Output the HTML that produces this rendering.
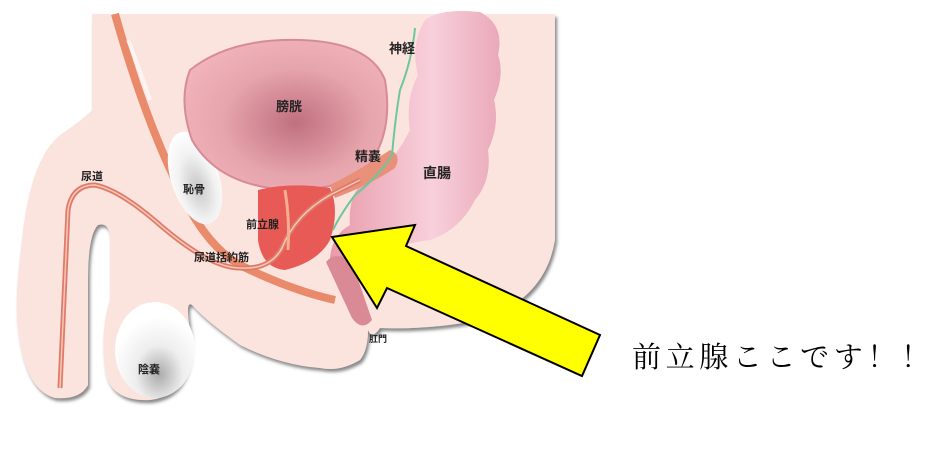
<!DOCTYPE html>
<html><head><meta charset="utf-8"><style>
html,body{margin:0;padding:0;background:#fff;width:943px;height:451px;overflow:hidden}
svg{display:block}
text{font-family:"Liberation Sans","Noto Sans CJK JP",sans-serif;font-weight:bold;fill:#222}
</style></head><body>
<svg width="943" height="451" viewBox="0 0 943 451" xmlns="http://www.w3.org/2000/svg">
<defs>
<radialGradient id="bl" cx="0.55" cy="0.55" r="0.6"><stop offset="0" stop-color="#c07080"/><stop offset="0.6" stop-color="#e6a4ac"/><stop offset="1" stop-color="#f0b3b8"/></radialGradient>
<radialGradient id="wb" cx="0.5" cy="0.6" r="0.6"><stop offset="0" stop-color="#c8c8c8"/><stop offset="0.6" stop-color="#f2f2f2"/><stop offset="1" stop-color="#fff"/></radialGradient>
<radialGradient id="sc" cx="0.55" cy="0.75" r="0.6"><stop offset="0" stop-color="#aaa"/><stop offset="0.5" stop-color="#eee"/><stop offset="1" stop-color="#fff"/></radialGradient>
<linearGradient id="rc" x1="0" y1="0" x2="1" y2="0"><stop offset="0" stop-color="#e89aaa"/><stop offset="0.6" stop-color="#f8d0dc"/><stop offset="1" stop-color="#eaa8b8"/></linearGradient>
<filter id="sh"><feDropShadow dx="2" dy="3" stdDeviation="1.5" flood-color="#555" flood-opacity="0.7"/></filter>
</defs>
<path filter="url(#sh)" fill="#fbe3de" d="M92,14 L555,14 L555,240 Q545,300 480,320 Q430,330 380,328 Q372,340 368,330 Q368,350 360,360 Q340,372 320,368 Q280,365 240,345 Q205,320 192,305 Q185,300 190,330 Q195,395 150,400 Q110,402 105,370 Q100,330 110,300 L110,235 Q108,222 98,225 Q88,235 88,280 L88,385 Q80,400 55,398 Q25,390 18,330 Q14,300 22,240 Q30,160 60,135 Q85,118 92,110 Z"/>
<ellipse cx="155" cy="350" rx="40" ry="48" fill="url(#sc)"/>
<path d="M115,14 Q145,120 180,190 Q205,245 240,265 Q290,290 335,300" fill="none" stroke="#e98a6a" stroke-width="8"/>
<path d="M128,40 Q140,70 150,100" fill="none" stroke="#fff" stroke-opacity="0.6" stroke-width="4"/>
<ellipse cx="195" cy="178" rx="24" ry="48" transform="rotate(-18 195 178)" fill="url(#wb)"/>
<path d="M190,70 Q230,38 300,40 Q370,42 385,80 Q395,140 360,175 Q320,195 270,188 Q215,180 192,140 Q178,100 190,70 Z" fill="url(#bl)" stroke="#d88a96" stroke-width="2"/>
<path d="M425,20 Q440,8 480,12 Q505,25 498,55 Q505,75 494,100 Q500,125 488,150 Q492,180 475,200 Q460,230 430,240 Q390,245 350,262 Q335,270 330,258 Q332,235 350,225 Q348,200 360,185 Q390,170 410,130 Q405,100 418,75 Q410,45 425,20 Z" fill="url(#rc)"/>
<path d="M326,262 Q336,250 352,262 L372,320 Q362,332 352,318 Z" fill="#d98a95"/>
<path d="M330,185 Q360,170 390,150 Q402,155 395,168 Q370,185 335,198 Z" fill="#e8907a"/>
<path d="M258,190 Q290,182 330,188 Q340,210 330,240 Q318,262 285,270 Q262,268 258,240 Z" fill="#e85a55"/>
<path d="M60,388 Q64,300 68,210 Q72,185 95,185 Q120,190 160,225 Q210,268 240,268 Q270,270 282,248 Q295,215 330,195 Q350,185 360,180" fill="none" stroke="#e07a68" stroke-width="5"/>
<path d="M60,388 Q64,300 68,210 Q72,185 95,185 Q120,190 160,225 Q210,268 240,268 Q270,270 282,248 Q295,215 330,195 Q350,185 360,180" fill="none" stroke="#f7c7b8" stroke-width="1.5"/>
<path d="M285,190 Q290,220 288,250" fill="none" stroke="#f2b090" stroke-width="3"/>
<path d="M415,28 Q412,60 400,90 Q395,120 392,155 Q380,175 355,195 Q340,215 333,230" fill="none" stroke="#6cc79a" stroke-width="2"/>
<text x="276" y="111" font-size="13">膀胱</text>
<text x="389" y="53" font-size="13">神経</text>
<text x="355" y="161" font-size="13">精嚢</text>
<text x="423" y="178" font-size="14">直腸</text>
<text x="81" y="180" font-size="11">尿道</text>
<text x="183" y="193" font-size="11">恥骨</text>
<text x="246" y="228" font-size="11">前立腺</text>
<text x="194" y="261" font-size="11">尿道括約筋</text>
<text x="369" y="342" font-size="9">肛門</text>
<text x="138" y="373" font-size="11">陰嚢</text>
<polygon points="332,237 415,225 406,246 600,335 582,376 387,288 377,308" fill="#ffff00" stroke="#000" stroke-width="2"/>
<text x="632" y="367" font-size="29" textLength="298" lengthAdjust="spacing" style="font-family:'Noto Serif CJK SC',serif;font-weight:normal;fill:#000">前立腺ここです！！</text>
</svg>
</body></html>
